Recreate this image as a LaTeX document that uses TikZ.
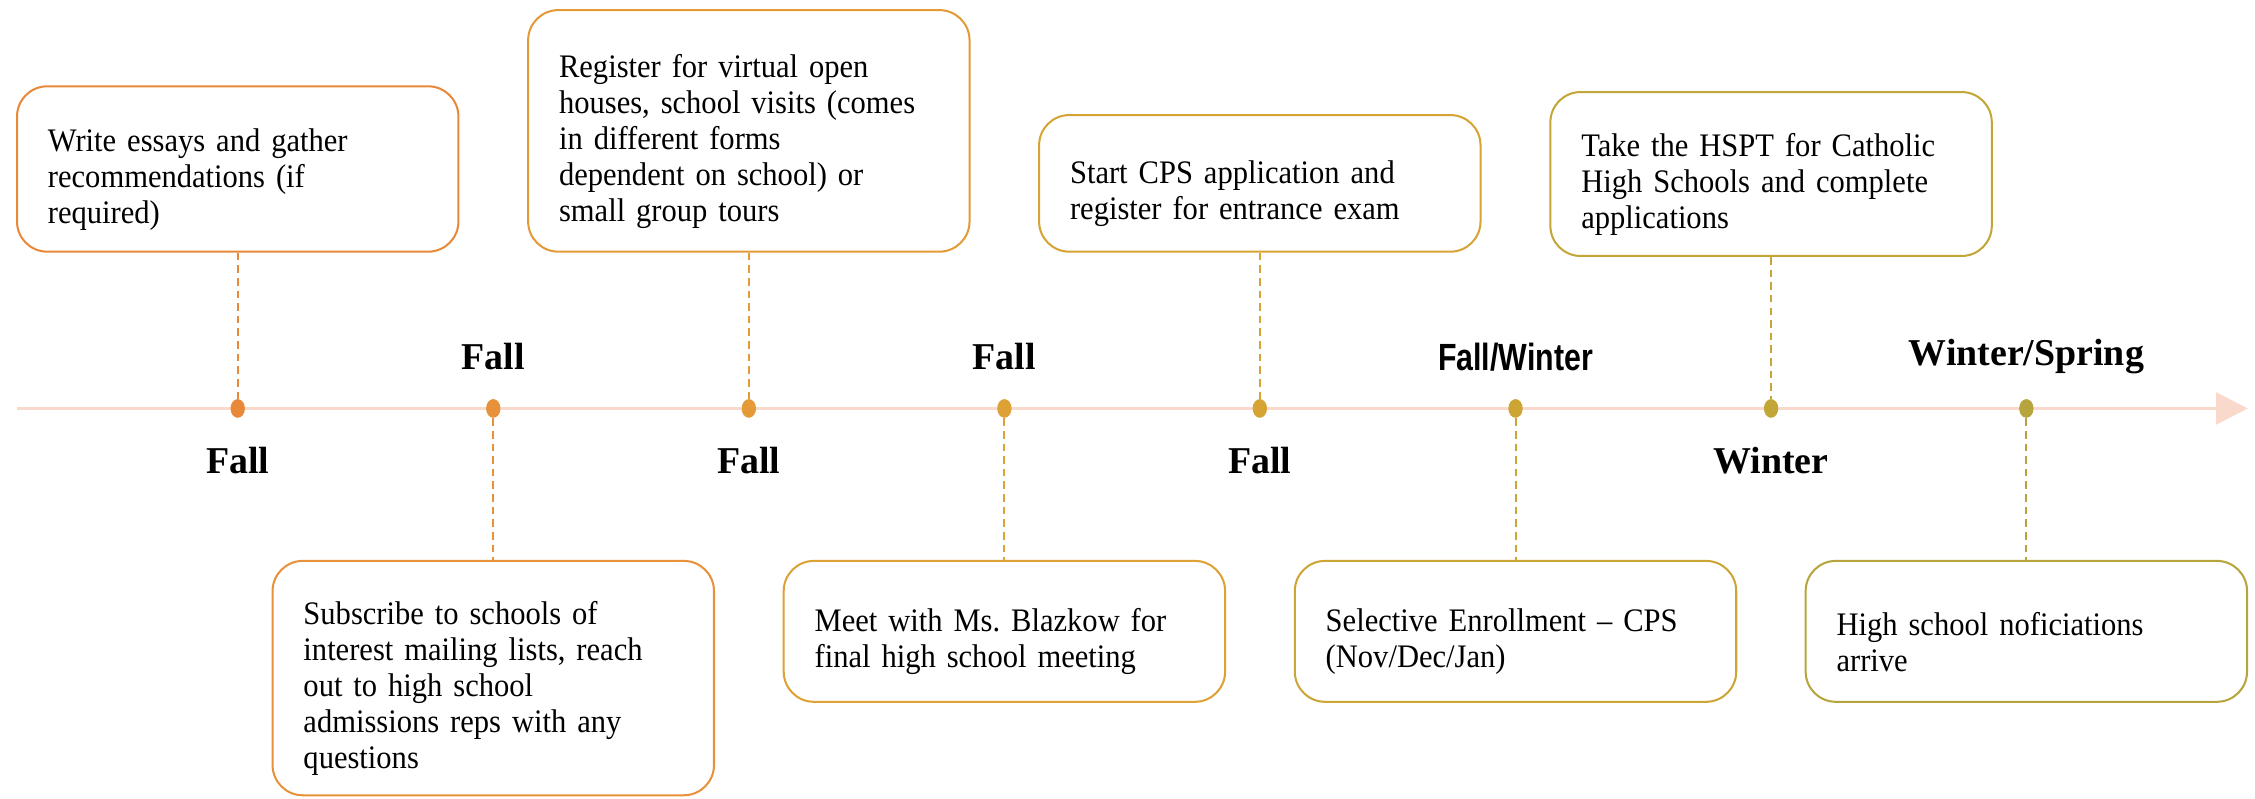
\documentclass[tikz,border=0pt]{standalone}
\usepackage{fontspec}
\setmainfont[FakeStretch=0.93]{Liberation Serif}
\newfontfamily\seasonfont{Liberation Serif}
\newfontfamily\condsans[FakeStretch=0.8]{Liberation Sans}
\usetikzlibrary{arrows.meta,shapes.geometric}
\frenchspacing

\definecolor{axispink}{RGB}{249,217,203}
\definecolor{cA}{RGB}{232,137,58}
\definecolor{cB}{RGB}{231,145,58}
\definecolor{cC}{RGB}{227,154,55}
\definecolor{cD}{RGB}{221,161,54}
\definecolor{cE}{RGB}{214,164,52}
\definecolor{cF}{RGB}{204,165,52}
\definecolor{cG}{RGB}{194,166,55}
\definecolor{cH}{RGB}{182,165,60}

\tikzset{
  stepbox/.style={draw=#1, line width=0.8pt, rounded corners=0.42cm, fill=white,
    text width=5.28cm, inner xsep=0.43cm, align=left,
    execute at begin node={\rule{0pt}{17.4pt}},
    font=\fontsize{13}{14.2}\selectfont},
  dot/.style={ellipse, fill=#1, draw=none, minimum width=0.2cm, minimum height=0.26cm, inner sep=0pt},
  link/.style={draw=#1, line width=0.8pt, dash pattern=on 3pt off 2pt},
  season/.style={font=\fontsize{15}{16}\selectfont\seasonfont\bfseries}
}

\begin{document}
\begin{tikzpicture}[x=0.02cm, y=-0.02cm]
            \useasboundingbox (0,0) rectangle (1568,555);
            % timeline
            \coordinate (start) at (12,284);
            \coordinate (end) at (1563,284);
            \draw[axispink, line width=1.3pt, -{Triangle[length=0.44cm,width=0.44cm]}] (start) -- (end);

            \node[dot=cA] (d1) at (165.3,284) {};
            \node[dot=cB] (d2) at (343,284) {};
            \node[dot=cC] (d3) at (520.7,284) {};
            \node[dot=cD] (d4) at (698.4,284) {};
            \node[dot=cE] (d5) at (876,284) {};
            \node[dot=cF] (d6) at (1053.8,284) {};
            \node[dot=cG] (d7) at (1231.5,284) {};
            \node[dot=cH] (d8) at (1409,284) {};

            % boxes above the line
            \node[stepbox=cA, minimum height=2.3cm] (b1) at (165.3,117.5) {Write essays and gather\\recommendations (if\\required)};
            \node[stepbox=cC, minimum height=3.36cm] (b3) at (520.7,91) {Register for virtual open\\houses, school visits (comes\\in different forms\\dependent on school) or\\small group tours};
            \node[stepbox=cE, minimum height=1.9cm] (b5) at (876,127.5) {Start CPS application and\\register for entrance exam};
            \node[stepbox=cG, minimum height=2.28cm] (b7) at (1231.5,121) {Take the HSPT for Catholic\\High Schools and complete\\applications};

            % boxes below the line
            \node[stepbox=cB, minimum height=3.26cm] (b2) at (343,471.5) {Subscribe to schools of\\interest mailing lists, reach\\out to high school\\admissions reps with any\\questions};
            \node[stepbox=cD, minimum height=1.96cm] (b4) at (698.4,439) {Meet with Ms. Blazkow for\\final high school meeting};
            \node[stepbox=cF, minimum height=1.96cm] (b6) at (1053.8,439) {Selective Enrollment -- CPS\\(Nov/Dec/Jan)};
            \node[stepbox=cH, minimum height=1.96cm] (b8) at (1409,439) {High school noficiations\\arrive};

            \draw[link=cA] (b1) -- (d1);
            \draw[link=cB] (d2) -- (b2);
            \draw[link=cC] (b3) -- (d3);
            \draw[link=cD] (d4) -- (b4);
            \draw[link=cE] (b5) -- (d5);
            \draw[link=cF] (d6) -- (b6);
            \draw[link=cG] (b7) -- (d7);
            \draw[link=cH] (d8) -- (b8);

            % season labels
            \node[season] (s1) at (165.3,320) {Fall};
            \node[season] (s2) at (343,248) {Fall};
            \node[season] (s3) at (520.7,320) {Fall};
            \node[season] (s4) at (698.4,248) {Fall};
            \node[season] (s5) at (876,320) {Fall};
            \node[season, font=\fontsize{15}{16}\selectfont\condsans\bfseries] (s6) at (1053.8,248) {Fall/Winter};
            \node[season] (s7) at (1231.5,320) {Winter};
            \node[season] (s8) at (1409,248) {Winter/Spring};
        \end{tikzpicture}
\end{document}
